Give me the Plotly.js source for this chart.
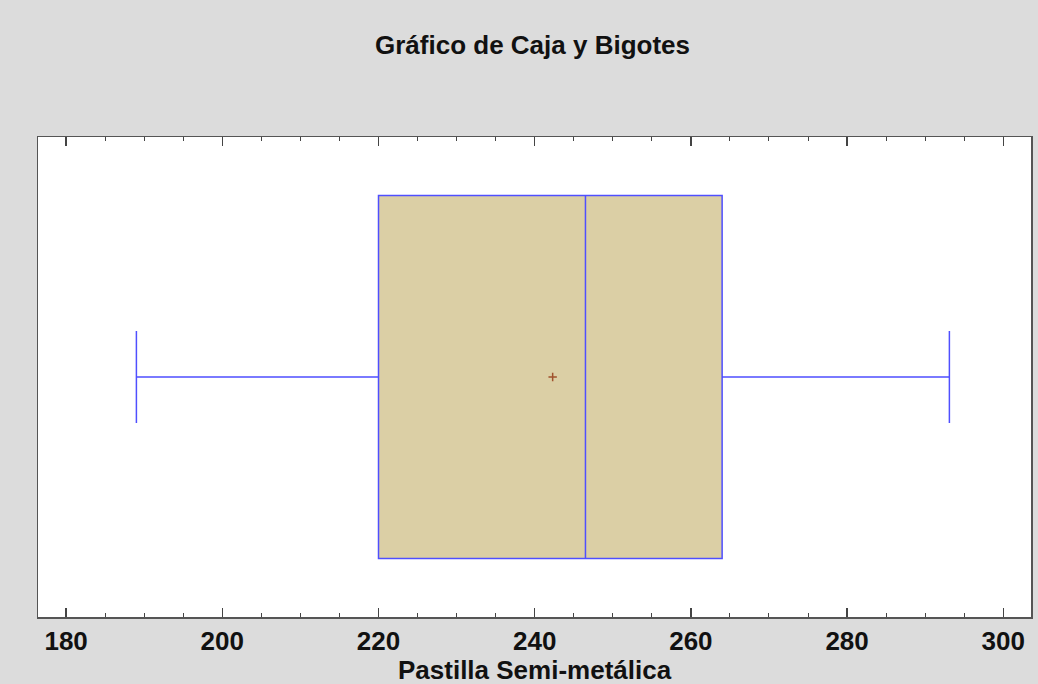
<!DOCTYPE html>
<html>
<head>
<meta charset="utf-8">
<script src="https://cdn.plot.ly/plotly-3.0.1.min.js"></script>
<style>html,body{margin:0;padding:0;background:#dcdcdc;}#chart{width:1038px;height:684px;}</style>
</head>
<body>
<div id="chart"></div>
<script>
const seriesName = ["Pastilla Semi-metálica"];
const q1 = [220.0];
const median = [246.5];
const q3 = [264.0];
const lowerFence = [189.0];
const upperFence = [293.1];
const meanValue = [242.3];
const tickValues = [180, 200, 220, 240, 260, 280, 300];

const boxTrace = {
  type: 'box',
  orientation: 'h',
  y: [0],
  q1: q1, median: median, q3: q3,
  lowerfence: lowerFence, upperfence: upperFence,
  width: 0.756,
  whiskerwidth: 0.253,
  fillcolor: '#dbcfa5',
  line: {color: '#4f4fff', width: 1.5},
  boxpoints: false,
  hoverinfo: 'skip',
  showlegend: false
};
const meanTrace = {
  type: 'scatter',
  mode: 'markers',
  x: meanValue,
  y: [0],
  marker: {symbol: 'cross-thin', size: 6, line: {color: '#a0522d', width: 1.5}},
  hoverinfo: 'skip',
  showlegend: false
};

const layout = {
  width: 1038, height: 684,
  paper_bgcolor: '#dcdcdc',
  plot_bgcolor: '#ffffff',
  margin: {l: 38, r: 7, t: 137, b: 67},
  font: {family: 'Liberation Sans, Arial, sans-serif', color: '#000'},
  title: {
    text: 'Gráfico de Caja y Bigotes',
    font: {size: 26, weight: 'bold', color: '#111'},
    x: 0.513, xanchor: 'center', y: 0.934, yanchor: 'middle'
  },
  xaxis: {
    range: [176.4, 303.55],
    tickvals: tickValues,
    ticks: 'inside', ticklen: 9, tickwidth: 1.5, tickcolor: '#444',
    minor: {dtick: 5, tick0: 0, ticks: 'inside', ticklen: 4, tickwidth: 1, tickcolor: '#444'},
    showline: true, linecolor: '#555', linewidth: 1.5, mirror: 'allticks',
    showgrid: false, zeroline: false,
    tickfont: {size: 26, weight: 'bold', color: '#111'}
  },
  yaxis: {
    range: [-0.5, 0.5],
    showticklabels: false, ticks: '',
    showline: true, linecolor: '#555', linewidth: 1.5, mirror: true,
    showgrid: false, zeroline: false, fixedrange: true
  },
  annotations: [{
    text: seriesName[0],
    xref: 'paper', yref: 'paper', x: 0.5, y: 0,
    xanchor: 'center', yanchor: 'top', yshift: -36,
    showarrow: false,
    font: {size: 26, weight: 'bold', color: '#111'}
  }]
};

Plotly.newPlot('chart', [boxTrace, meanTrace], layout, {displayModeBar: false, staticPlot: true});
</script>
</body>
</html>
